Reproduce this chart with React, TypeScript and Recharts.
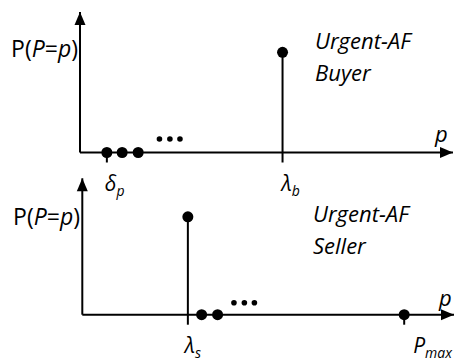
import React from 'react';
import { ComposedChart, Scatter, ErrorBar, XAxis, YAxis, ReferenceDot, Customized } from 'recharts';

// Urgent-AF buyer: mass at small prices, one spike at lambda_b
const buyerLowPrices = [7.2, 11.3, 15.6];
const buyerMorePrices = [21.3, 24.1, 26.8];
const buyerMoreLevel = 0.096;
const buyerPeakPrice = 54.3;
const buyerPeakProb = 0.713;
const buyerTicks = [buyerLowPrices[0], buyerPeakPrice];
const buyerTickSymbols = ['δ', 'λ'];
const buyerTickSubs = ['p', 'b'];
const buyerTitle = ['Urgent-AF', 'Buyer'];

// Urgent-AF seller: spike at lambda_s, mass above it up to P_max
const sellerPeakPrice = 28.4;
const sellerPeakProb = 0.718;
const sellerHighPrices = [32.1, 36.4, 86.6];
const sellerMorePrices = [40.8, 43.6, 46.3];
const sellerMoreLevel = 0.088;
const sellerTicks = [sellerPeakPrice, sellerHighPrices[2]];
const sellerTickSymbols = ['λ', 'P'];
const sellerTickSubs = ['s', 'max'];
const sellerTitle = ['Urgent-AF', 'Seller'];

const FONT = '"Open Sans", "Noto Sans", sans-serif';
const X_AXIS_H = 30;
const Y_AXIS_W = 20;

const dot = (r: number) => (props: any) => <circle cx={props.cx} cy={props.cy} r={r} fill="#000" />;
const arrowRight = (props: any) => <path d={`M${props.cx},${props.cy} l-13,-5.5 l0,11 z`} fill="#000" />;
const arrowUp = (props: any) => <path d={`M${props.cx},${props.cy} l-5.5,13 l11,0 z`} fill="#000" />;

function PriceTick(props: any) {
  const { x, y, index, symbols, subs, shifts } = props;
  return (
    <text x={x + shifts[index]} y={y + 28} fontFamily={FONT} fontSize={21} fontStyle="italic" fill="#000">
      {symbols[index]}
      <tspan dy={5} fontSize={14}>{subs[index]}</tspan>
    </text>
  );
}

interface PanelProps {
  height: number;
  margin: { top: number; right: number; bottom: number; left: number };
  peakPrice: number;
  peakProb: number;
  axisPrices: number[];
  morePrices: number[];
  moreLevel: number;
  ticks: number[];
  tickSymbols: string[];
  tickSubs: string[];
  tickShifts: number[];
  title: string[];
  titleX: number;
  titleY: number;
  yLabelX: number;
  yLabelY: number;
  pLabelX: number;
  pLabelY: number;
}

function Panel(p: PanelProps) {
  const peakData = [{ price: p.peakPrice, prob: p.peakProb, drop: [p.peakProb, 0] }];
  const axisData = p.axisPrices.map((price) => ({ price, prob: 0 }));
  const moreData = p.morePrices.map((price) => ({ price, prob: p.moreLevel }));
  const m = { ...p.margin, bottom: p.margin.bottom - X_AXIS_H, left: p.margin.left - Y_AXIS_W };
  return (
    <ComposedChart width={457} height={p.height} margin={m}>
      <XAxis
        type="number"
        dataKey="price"
        domain={[0, 100]}
        ticks={p.ticks}
        interval={0}
        height={X_AXIS_H}
        stroke="#000"
        strokeWidth={2}
        tickSize={10}
        tickMargin={0}
        tick={(tp: any) => (
          <PriceTick {...tp} symbols={p.tickSymbols} subs={p.tickSubs} shifts={p.tickShifts} />
        )}
      />
      <YAxis
        type="number"
        dataKey="prob"
        domain={[0, 1]}
        width={Y_AXIS_W}
        stroke="#000"
        strokeWidth={2}
        tick={false}
        tickLine={false}
      />
      <ReferenceDot x={100} y={0} ifOverflow="visible" shape={arrowRight} />
      <ReferenceDot x={0} y={1} ifOverflow="visible" shape={arrowUp} />
      <Scatter data={peakData} shape={dot(5.5)} isAnimationActive={false}>
        <ErrorBar dataKey="drop" direction="y" width={0} stroke="#000" strokeWidth={2} isAnimationActive={false} />
      </Scatter>
      <Scatter data={axisData} shape={dot(5.5)} isAnimationActive={false} />
      <Scatter data={moreData} shape={dot(2.8)} isAnimationActive={false} />
      <Customized
        component={() => (
          <g fontFamily={FONT} fill="#000">
            <text x={p.yLabelX} y={p.yLabelY} fontSize={23} textAnchor="end">
              P(<tspan fontStyle="italic">P</tspan>=<tspan fontStyle="italic">p</tspan>)
            </text>
            <text x={p.pLabelX} y={p.pLabelY} fontSize={22} fontStyle="italic">p</text>
            <text x={p.titleX} y={p.titleY} fontSize={22} fontStyle="italic">{p.title[0]}</text>
            <text x={p.titleX} y={p.titleY + 32} fontSize={22} fontStyle="italic">{p.title[1]}</text>
          </g>
        )}
      />
    </ComposedChart>
  );
}

export default function App() {
  return (
    <div style={{ position: 'absolute', left: 0, top: 0, width: 457, height: 361, background: '#fff' }}>
      <div style={{ position: 'absolute', left: 0, top: 0 }}>
        <Panel
          height={200}
          margin={{ top: 12, right: 4, bottom: 47.5, left: 80 }}
          peakPrice={buyerPeakPrice}
          peakProb={buyerPeakProb}
          axisPrices={buyerLowPrices}
          morePrices={buyerMorePrices}
          moreLevel={buyerMoreLevel}
          ticks={buyerTicks}
          tickSymbols={buyerTickSymbols}
          tickSubs={buyerTickSubs}
          tickShifts={[-2, -1]}
          title={buyerTitle}
          titleX={315}
          titleY={49}
          yLabelX={78}
          yLabelY={57}
          pLabelX={435}
          pLabelY={142}
        />
      </div>
      <div style={{ position: 'absolute', left: 0, top: 170 }}>
        <Panel
          height={191}
          margin={{ top: 8.3, right: 3, bottom: 46.3, left: 82.3 }}
          peakPrice={sellerPeakPrice}
          peakProb={sellerPeakProb}
          axisPrices={sellerHighPrices}
          morePrices={sellerMorePrices}
          moreLevel={sellerMoreLevel}
          ticks={sellerTicks}
          tickSymbols={sellerTickSymbols}
          tickSubs={sellerTickSubs}
          tickShifts={[-3, 9]}
          title={sellerTitle}
          titleX={313}
          titleY={52}
          yLabelX={80}
          yLabelY={55}
          pLabelX={439}
          pLabelY={135.5}
        />
      </div>
    </div>
  );
}
